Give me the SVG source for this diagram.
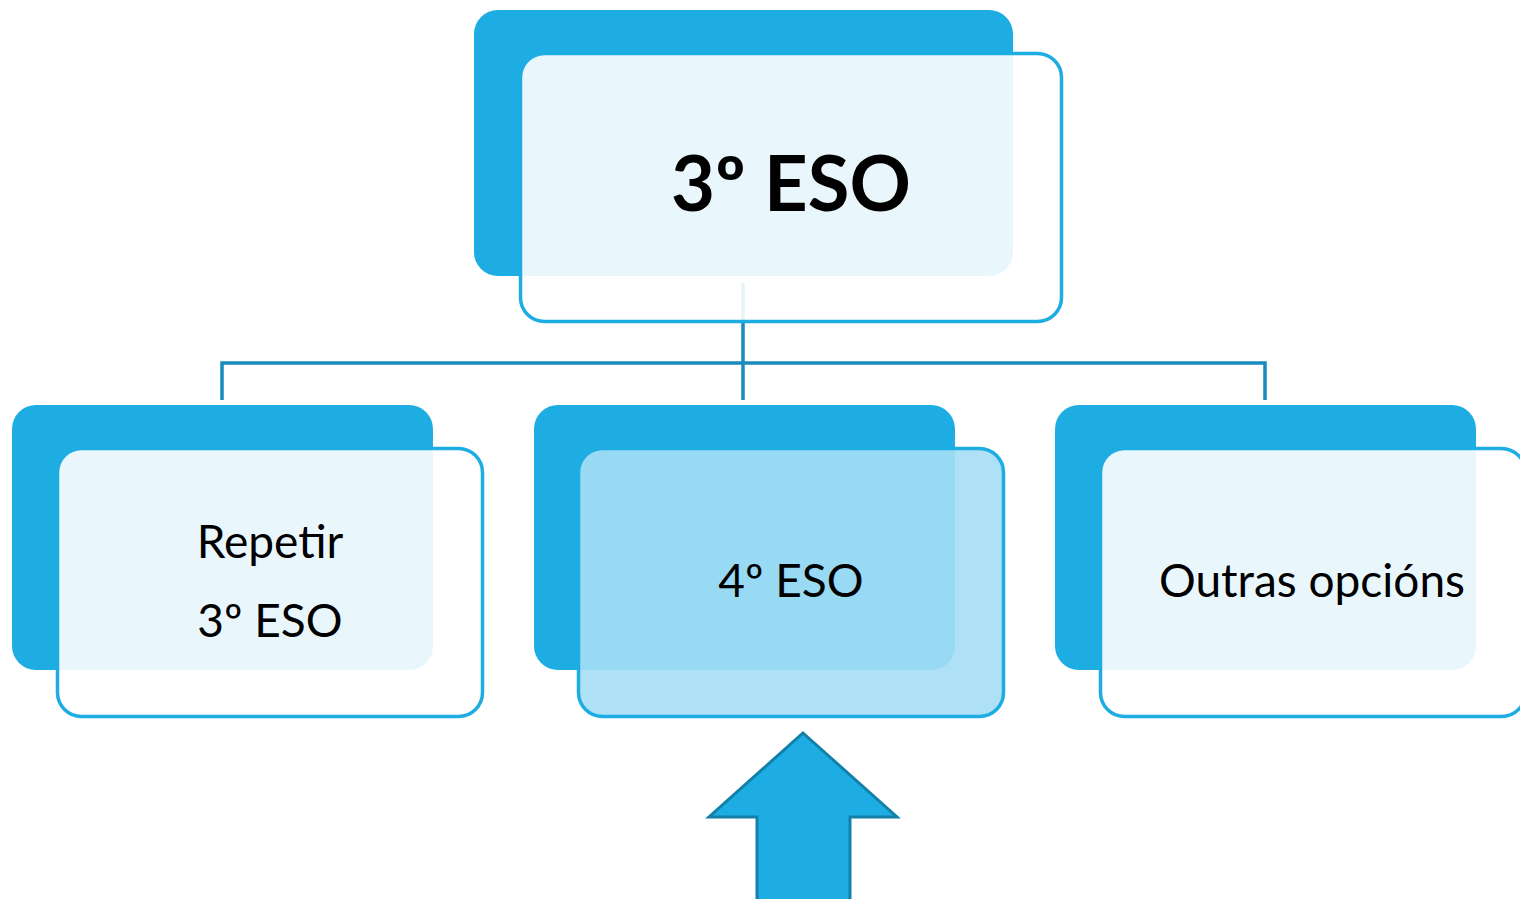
<svg xmlns="http://www.w3.org/2000/svg" width="1520" height="899" viewBox="0 0 1520 899">
<style>
.back{fill:#1EADE3}
.front{fill:#FFFFFF;fill-opacity:0.9;stroke:#1EADE3;stroke-width:3.5}
.front.hl{fill:#A5DEF4}
.conn{fill:none;stroke:#1A8BBC;stroke-width:3.5}
text{font-family:Lato,"Open Sans","Liberation Sans",sans-serif;fill:#000;text-anchor:middle}
.big{font-size:76px;font-weight:bold}
.lbl{font-size:46px}
</style>
<rect width="1520" height="899" fill="#FFFFFF"/>
<g id="connectors">
<path class="conn" d="M743,283 V400"/>
<path class="conn" d="M222,400 V363 H1265 V400"/>
</g>
<g id="node-3eso">
<rect class="back" x="474" y="10" width="539" height="266" rx="24"/>
<rect class="front" x="520.5" y="53.5" width="541" height="268" rx="24"/>
<text class="big" x="791" y="211">3º ESO</text>
</g>
<g id="node-repetir">
<rect class="back" x="12" y="405" width="421" height="265" rx="24"/>
<rect class="front" x="57.5" y="448.5" width="425" height="268" rx="24"/>
<text class="lbl" x="270" y="558">Repetir</text>
<text class="lbl" x="270" y="637">3º ESO</text>
</g>
<g id="node-4eso">
<rect class="back" x="534" y="405" width="421" height="265" rx="24"/>
<rect class="front hl" x="578.5" y="448.5" width="425" height="268" rx="24"/>
<text class="lbl" x="791" y="597">4º ESO</text>
</g>
<g id="node-outras">
<rect class="back" x="1055" y="405" width="421" height="265" rx="24"/>
<rect class="front" x="1100.5" y="448.5" width="425" height="268" rx="24"/>
<text class="lbl" x="1312" y="597">Outras opcións</text>
</g>
<g id="arrow">
<path d="M803,733 L897,817 H850 V905 H757 V817 H709 Z" fill="#1EADE3" stroke="#1380AA" stroke-width="3"/>
</g>
</svg>
